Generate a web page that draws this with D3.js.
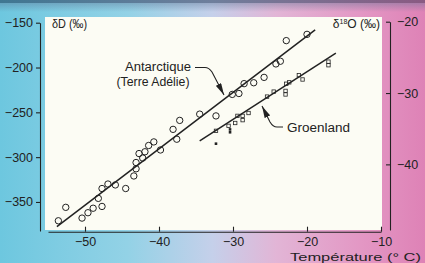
<!DOCTYPE html>
<html><head><meta charset="utf-8">
<script src="https://cdn.jsdelivr.net/npm/d3@7"></script>
<style>html,body{margin:0;padding:0;overflow:hidden;background:#fff}</style>
</head><body>
<script>
// ---- data ----
const antT  = [-53.6,-52.6,-50.4,-49.6,-48.9,-47.7,-48.2,-47.7,-46.9,-45.9,-44.5,-43.4,-43.1,-43.1,-42.2,-42.7,-41.9,-41.4,-40.7,-39.8,-38.1,-37.6,-37.2,-34.5,-32.3,-30.1,-29.2,-28.5,-27.2,-25.8,-24.2,-23.6,-22.8,-20.0];
const antD  = [-371,-356,-368,-362,-357,-355,-346,-335,-330,-331,-335,-321,-313,-306,-301,-296,-294,-287,-283,-292,-269,-280,-259,-252,-254,-230,-229,-218,-217,-211,-196,-193,-170,-163];
const grnT  = [-32.3,-30.6,-29.7,-29.4,-28.7,-28.7,-27.9,-25.4,-24.5,-22.9,-22.9,-22.8,-22.4,-21.1,-20.6,-17.1,-17.1];
const grnO  = [-35.3,-34.6,-34.2,-33.2,-33.8,-33.2,-32.8,-30.5,-29.8,-29.7,-30.2,-28.7,-28.5,-27.5,-28.1,-25.6,-26.1];
const grnFillT = [-32.3,-30.4,-30.4];
const grnFillO = [-37.1,-35.1,-35.5];
const antLineT = [-53.8,-18.9];
const antLineD = [-377.6,-158.1];
const grnLineT = [-34.5,-16.1];
const grnLineO = [-36.7,-24.4];
const xTicks = [-50,-40,-30,-20,-10];
const yDTicks = [-150,-200,-250,-300,-350];
const yOTicks = [-20,-30,-40];
const tickFmt = d => String(d).replace('-', '\u2212');

const W = 425, H = 263;
const svg = d3.select('body').append('svg').attr('width', W).attr('height', H)
  .style('font-family', '"Liberation Sans", Arial, sans-serif');
const defs = svg.append('defs');
const g = defs.append('linearGradient').attr('id','bg').attr('x1',0).attr('x2',1).attr('y1',0).attr('y2',0);
[[0,'#6dc7df'],[0.3,'#93d2e6'],[0.5,'#c5d0ea'],[0.65,'#e2b5d6'],[0.85,'#e397c4'],[1,'#de82b6']]
  .forEach(([o,c]) => g.append('stop').attr('offset',o).attr('stop-color',c));
const gt = defs.append('linearGradient').attr('id','bgtop').attr('x1',0).attr('x2',1).attr('y1',0).attr('y2',0);
[[0,'#3f7792'],[0.5,'#6f7f9c'],[1,'#8a5a82']].forEach(([o,c]) => gt.append('stop').attr('offset',o).attr('stop-color',c));
const gv = defs.append('linearGradient').attr('id','bgfade').attr('x1',0).attr('x2',0).attr('y1',0).attr('y2',1);
[[0,1],[1,0]].forEach(([o,a]) => gv.append('stop').attr('offset',o).attr('stop-color','#5a6f90').attr('stop-opacity',a*0.45));
defs.append('marker').attr('id','arr').attr('viewBox','0 0 12 6').attr('refX',12).attr('refY',3)
  .attr('markerWidth',12).attr('markerHeight',6).attr('markerUnits','userSpaceOnUse').attr('orient','auto')
  .append('path').attr('d','M0,0 L12,3 L0,6 Z').attr('fill','#222');

svg.append('rect').attr('width',W).attr('height',H).attr('fill','url(#bg)');
svg.append('rect').attr('width',W).attr('height',10).attr('y',2).attr('fill','url(#bgfade)');
svg.append('rect').attr('width',W).attr('height',3).attr('fill','url(#bgtop)');

// scales
const x = d3.scaleLinear().domain([-55,-10]).range([48,381]);
const yD = d3.scaleLinear().domain([-382.4,-150]).range([231,22.7]);
const yO = d3.scaleLinear().domain([-49.2,-20]).range([230,21.7]);

// plot area (white)
svg.append('rect').attr('x',45).attr('y',17).attr('width',337).attr('height',213).attr('fill','#fcfcf4');

const ink = '#222';
// axes
const axL = svg.append('g').attr('transform','translate(40,0)')
  .call(d3.axisLeft(yD).tickValues(yDTicks).tickFormat(tickFmt).tickSizeInner(4).tickSizeOuter(0).tickPadding(3));
const axB = svg.append('g').attr('transform','translate(0,231.7)')
  .call(d3.axisBottom(x).tickValues(xTicks).tickFormat(tickFmt).tickSizeInner(-5).tickSizeOuter(0).tickPadding(5));
const axR = svg.append('g').attr('transform','translate(390,0)')
  .call(d3.axisRight(yO).tickValues(yOTicks).tickFormat(tickFmt).tickSizeInner(-4).tickSizeOuter(0).tickPadding(7));
[axL,axB,axR].forEach(a => {
  a.selectAll('path,line').attr('stroke',ink).attr('stroke-width',1.1);
  a.selectAll('text').attr('fill',ink).style('font-size','12.5px').style('font-family','"Liberation Sans", Arial, sans-serif');
});

// regression lines
const line = (ts, vs, ys) => ts.map((t,i) => [x(t), ys(vs[i])]);
svg.append('path').attr('d', d3.line()(line(antLineT, antLineD, yD))).attr('stroke',ink).attr('stroke-width',1.5).attr('fill','none');
svg.append('path').attr('d', d3.line()(line(grnLineT, grnLineO, yO))).attr('stroke',ink).attr('stroke-width',1.5).attr('fill','none');

// Antarctique circles
svg.append('g').selectAll('circle').data(antT.map((t,i)=>[t,antD[i]])).join('circle')
  .attr('cx',d=>x(d[0])).attr('cy',d=>yD(d[1])).attr('r',3.2)
  .attr('fill','none').attr('stroke',ink).attr('stroke-width',1);
// Groenland squares
svg.append('g').selectAll('rect').data(grnT.map((t,i)=>[t,grnO[i]])).join('rect')
  .attr('x',d=>x(d[0])-1.7).attr('y',d=>yO(d[1])-1.7).attr('width',3.4).attr('height',3.4)
  .attr('fill','none').attr('stroke',ink).attr('stroke-width',0.8);
svg.append('g').selectAll('rect').data(grnFillT.map((t,i)=>[t,grnFillO[i]])).join('rect')
  .attr('x',d=>x(d[0])-1.3).attr('y',d=>yO(d[1])-1.3).attr('width',2.6).attr('height',2.6)
  .attr('fill',ink);

// labels
const txt = (s, xx, yy, anchor, size, len) => {
  const t = svg.append('text').attr('x',xx).attr('y',yy).attr('text-anchor',anchor)
    .attr('fill',ink).style('font-size',size+'px').text(s);
  if (len) t.attr('textLength',len).attr('lengthAdjust','spacingAndGlyphs');
  return t;
};
txt('Antarctique', 158, 71, 'middle', 12.5, 66);
txt('(Terre Adélie)', 153, 86, 'middle', 12.5, 73);
txt('Groenland', 287, 131.5, 'start', 12.5, 63);
txt('δD (‰)', 52, 28, 'start', 12, 35);
const to = svg.append('text').attr('x',380).attr('y',28).attr('text-anchor','end').attr('fill',ink).style('font-size','12px');
to.append('tspan').text('δ');
to.append('tspan').text('18').style('font-size','7px').attr('dy',-4);
to.append('tspan').text('O (‰)').attr('dy',4);
txt('Température (° C)', 421, 260.5, 'end', 11.5, 131);

// leaders with arrows
svg.append('path').attr('d','M195,67.5 L205,67.5 Q209,67.5 212,72 L224,95')
  .attr('fill','none').attr('stroke',ink).attr('stroke-width',1.1).attr('marker-end','url(#arr)');
svg.append('path').attr('d','M283,127 L277,127 Q273,127 270,122 L262,106')
  .attr('fill','none').attr('stroke',ink).attr('stroke-width',1.1).attr('marker-end','url(#arr)');
</script>
</body></html>
